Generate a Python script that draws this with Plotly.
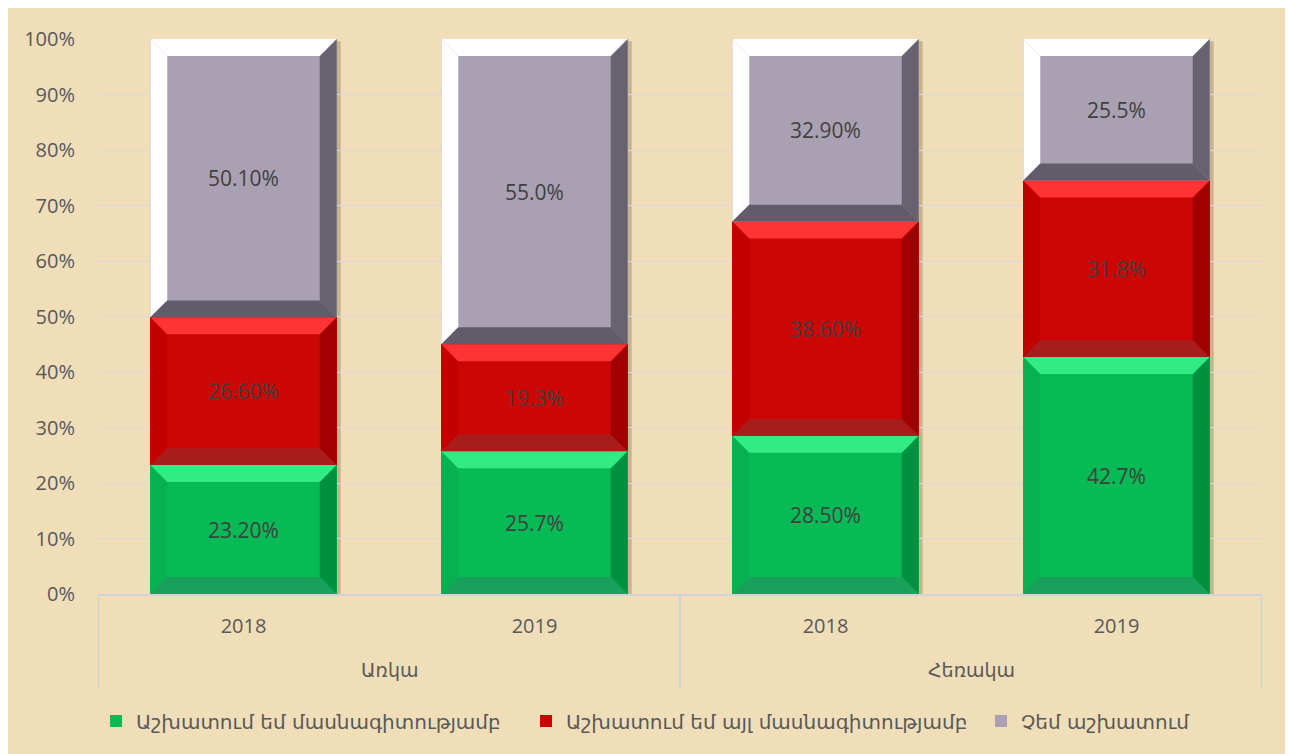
import plotly.graph_objects as go

# data
groups = ["Առկա", "Առկա", "Հեռակա", "Հեռակա"]
years = ["2018", "2019", "2018", "2019"]
series_names = ["Աշխատում եմ մասնագիտությամբ",
                "Աշխատում եմ այլ մասնագիտությամբ",
                "Չեմ աշխատում"]
works_in_field = [23.2, 25.7, 28.5, 42.7]
works_other = [26.6, 19.3, 38.6, 31.8]
not_working = [50.1, 55.0, 32.9, 25.5]
labels_field = ["23.20%", "25.7%", "28.50%", "42.7%"]
labels_other = ["26.60%", "19.3%", "38.60%", "31.8%"]
labels_not = ["50.10%", "55.0%", "32.90%", "25.5%"]
y_ticks = list(range(0, 101, 10))
y_tick_text = [f"{v}%" for v in y_ticks]

# bevel colours: face, top, left, right, bottom
palette = [
    dict(face='#06BA55', top='#33EB85', left='#07B050', right='#009140', bottom='#19A05A'),
    dict(face='#CC0505', top='#FF3333', left='#C20000', right='#A00000', bottom='#A81C1C'),
    dict(face='#A9A1B2', top='#FFFFFF', left='#FFFFFF', right='#676170', bottom='#625C6A'),
]

values = [works_in_field, works_other, not_working]
labels = [labels_field, labels_other, labels_not]
xpos = list(range(len(years)))

font = "Open Sans, DejaVu Sans, sans-serif"
arm_font = "DejaVu Sans, sans-serif"
bar_width = 0.64
bevel_x = 0.058   # in category units (~17px)
bevel_y = 3.05    # in percent units (~17px)

# one legend box per series so the entries sit where the original has them
legend_ids = ['legend', 'legend2', 'legend3']
legend_x = [-0.0017, 0.3677, 0.7586]

fig = go.Figure()

for name, vals, txt, col, lg in zip(series_names, values, labels, palette, legend_ids):
    fig.add_trace(go.Bar(
        x=xpos, y=vals,
        name=name, legend=lg,
        text=txt, textposition='inside', insidetextanchor='middle',
        textfont=dict(size=21, color='#404040', family=font),
        constraintext='none',
        marker=dict(color=col['face'], line=dict(width=0)),
        width=bar_width,
    ))

shapes = []
totals = [sum(v[i] for v in values) for i in range(len(years))]

# soft shadow behind every bar
for i in xpos:
    shapes.append(dict(type='rect', xref='x', yref='y', layer='below',
                       x0=i - bar_width / 2 + 0.012, x1=i + bar_width / 2 + 0.014,
                       y0=0, y1=100 - 0.4,
                       fillcolor='rgba(90,70,40,0.28)', line=dict(width=0)))

# bevel edges, computed from the normalised stack
for i in xpos:
    base = 0
    for vals, col in zip(values, palette):
        h = vals[i] / totals[i] * 100
        x0, x1 = i - bar_width / 2, i + bar_width / 2
        y0, y1 = base, base + h
        dx, dy = bevel_x, bevel_y
        polys = {
            'top': [(x0, y1), (x1, y1), (x1 - dx, y1 - dy), (x0 + dx, y1 - dy)],
            'bottom': [(x0, y0), (x1, y0), (x1 - dx, y0 + dy), (x0 + dx, y0 + dy)],
            'left': [(x0, y0), (x0, y1), (x0 + dx, y1 - dy), (x0 + dx, y0 + dy)],
            'right': [(x1, y0), (x1, y1), (x1 - dx, y1 - dy), (x1 - dx, y0 + dy)],
        }
        for side in ['left', 'right', 'top', 'bottom']:
            pts = polys[side]
            path = 'M ' + ' L '.join(f'{px},{py}' for px, py in pts) + ' Z'
            shapes.append(dict(type='path', path=path, xref='x', yref='y',
                               fillcolor=col[side], line=dict(width=0), layer='above'))
        base = y1

# category box: dividers at group boundaries, group labels underneath
annotations = []
bounds = [-0.5]
for i in range(1, len(groups)):
    if groups[i] != groups[i - 1]:
        bounds.append(i - 0.5)
bounds.append(len(groups) - 0.5)
for b in bounds:
    shapes.append(dict(type='line', xref='x', yref='paper', x0=b, x1=b, y0=0, y1=-0.169,
                       line=dict(color='#C9D0DA', width=2)))
for a, b in zip(bounds[:-1], bounds[1:]):
    g = groups[int(a + 0.5)]
    annotations.append(dict(x=(a + b) / 2, y=-0.137, xref='x', yref='paper',
                            text=g, showarrow=False, yanchor='middle',
                            font=dict(size=19, color='#595959', family=arm_font)))

legend_style = dict(orientation='h', xanchor='left', y=-0.229, yanchor='middle',
                    font=dict(size=20, color='#595959', family=arm_font),
                    itemwidth=30, bgcolor='rgba(0,0,0,0)')

fig.update_layout(
    width=1293, height=754,
    barmode='stack', barnorm='percent', bargap=0.36,
    paper_bgcolor='#F0DEB8', plot_bgcolor='rgba(0,0,0,0)',
    margin=dict(l=90, r=39, t=31, b=168),
    font=dict(family=font, size=20, color='#595959'),
    shapes=shapes,
    annotations=annotations,
    showlegend=True,
    xaxis=dict(range=[-0.5, 3.5], tickvals=xpos, ticktext=years, showgrid=False,
               zeroline=False, showline=True, linecolor='#D0D4DA', linewidth=2,
               tickfont=dict(size=20, color='#595959'), ticks='', ticklabelstandoff=13),
    yaxis=dict(range=[0, 100], tickvals=y_ticks, ticktext=y_tick_text,
               showgrid=True, gridcolor='#D9D9D9', gridwidth=1, zeroline=False,
               tickfont=dict(size=20, color='#595959'), ticklabelstandoff=22),
)
for lg, lx in zip(legend_ids, legend_x):
    fig.update_layout({lg: dict(legend_style, x=lx)})

fig.write_html("out.html")
